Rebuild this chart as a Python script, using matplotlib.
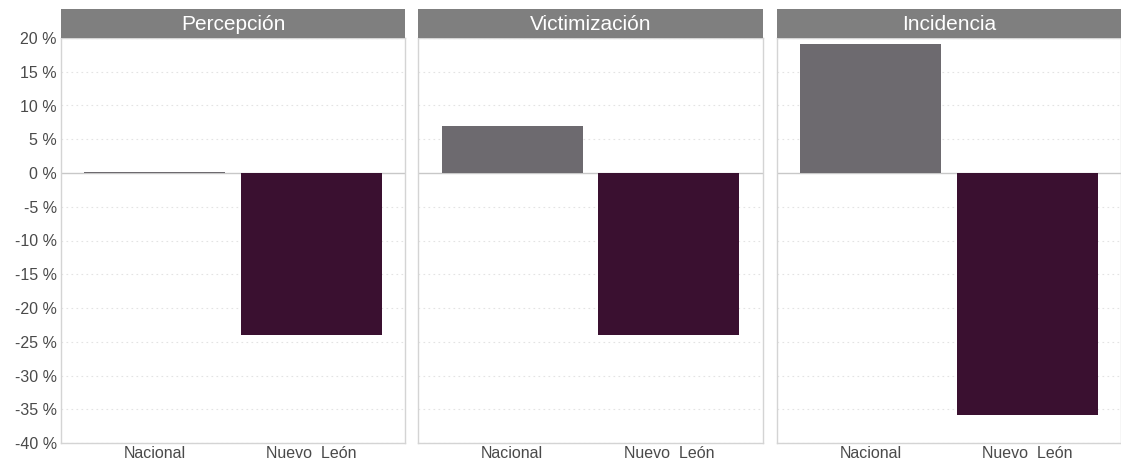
import numpy as np
import matplotlib.pyplot as plt

plt.rcParams["font.family"] = ["Liberation Sans", "DejaVu Sans"]

# data
panels = ["Percepción", "Victimización", "Incidencia"]
categories = ["Nacional", "Nuevo  León"]
nacional = [0.2, 7.0, 19.1]
nuevo_leon = [-24.0, -24.0, -35.9]
y_ticks = [-40, -35, -30, -25, -20, -15, -10, -5, 0, 5, 10, 15, 20]

bar_colors = ["#6d6a6f", "#3a1030"]
border_col = "#d4d4d4"

W, H = 1121, 463
fig = plt.figure(figsize=(W / 100, H / 100), dpi=100)

panel_x = [(61, 405), (418, 763), (777, 1121)]
top_px, bottom_px, strip_top = 38, 443, 9

for i, name in enumerate(panels):
    x0, x1 = panel_x[i]
    ax = fig.add_axes([x0 / W, 1 - bottom_px / H, (x1 - x0) / W, (bottom_px - top_px) / H])
    vals = [nacional[i], nuevo_leon[i]]
    ax.bar([1, 2], vals, width=0.9, color=bar_colors, zorder=3)
    ax.set_xlim(0.4, 2.6)
    ax.set_ylim(-40, 20)
    ax.set_yticks(y_ticks)
    for t in y_ticks:
        if t == 0:
            ax.axhline(0, color="#c8c8c8", lw=1.0, zorder=2)
        else:
            ax.axhline(t, color="#e3e3e3", lw=0.8, ls=(0, (1.5, 3)), zorder=1)
    ax.set_xticks([1, 2])
    ax.set_xticklabels(categories, fontsize=11.5, color="#4a4a4a")
    if i == 0:
        ax.set_yticklabels([f"{t} %" for t in y_ticks], fontsize=11.5, color="#4a4a4a")
    else:
        ax.set_yticklabels([])
    ax.tick_params(length=0, pad=3)
    ax.tick_params(axis="x", pad=2)
    for s in ax.spines.values():
        s.set_color(border_col)
        s.set_linewidth(1.0)

    # strip header
    sax = fig.add_axes([x0 / W, 1 - top_px / H, (x1 - x0) / W, (top_px - strip_top) / H])
    sax.set_facecolor("#7f7f7f")
    sax.set_xticks([])
    sax.set_yticks([])
    for s in sax.spines.values():
        s.set_visible(False)
    sax.text(0.5, 0.47, name, ha="center", va="center", color="white",
             fontsize=15, transform=sax.transAxes)

fig.savefig("out.png", dpi=100)
